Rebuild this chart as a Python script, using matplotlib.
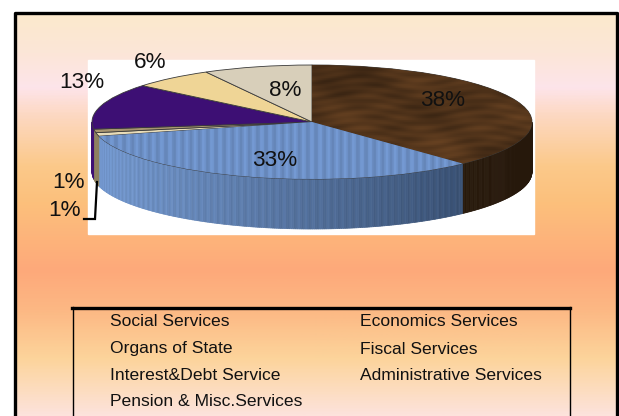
import numpy as np
import matplotlib
matplotlib.use("Agg")
import matplotlib.pyplot as plt
from matplotlib.colors import LinearSegmentedColormap, to_rgb
from matplotlib.patches import Polygon, Rectangle

plt.rcParams['font.family'] = ['Liberation Sans', 'DejaVu Sans']

# Expenditure shares, clockwise from twelve o'clock
shares = [38, 33, 1, 1, 13, 6, 8]
top_colors = ['#4d3119', '#6d90c6', '#e8dcb8', '#a89670', '#3d0f74', '#efd596', '#d8cfba']
wall_left = ['#2e1d0d', '#7499d0', '#8d8060', '#8d8060', '#3d0f74', '#efd596', '#d8cfba']
wall_right = ['#26180b', '#2d4261', '#8d8060', '#8d8060', '#3d0f74', '#efd596', '#d8cfba']
label_xy = [(443, 101), (275, 160), (69, 183), (64, 211), (82, 83), (150, 63), (285, 90)]

legend_col1 = ['Social Services', 'Organs of State', 'Interest&Debt Service', 'Pension & Misc.Services']
legend_col2 = ['Economics Services', 'Fiscal Services', 'Administrative Services']
legend_rows = [321, 349, 376, 402]

W, H = 619, 416
fig = plt.figure(figsize=(W / 100, H / 100), dpi=100, facecolor='white')

# Page layer in pixel coordinates
page = fig.add_axes([0, 0, 1, 1], zorder=1)
page.axis('off')

# Vertical background band inside the frame
bg = LinearSegmentedColormap.from_list('bg', [
    (0.00, '#fbe9cc'), (0.10, '#fce6d8'), (0.185, '#fde4ea'), (0.25, '#fdd9c4'),
    (0.38, '#fbc98a'), (0.47, '#fcc07c'), (0.64, '#fea97a'), (0.74, '#fcb884'),
    (0.86, '#fcd49b'), (1.00, '#fde3dc')])
page.imshow(np.linspace(0, 1, 400)[:, None], cmap=bg, aspect='auto',
            extent=(14, 617, H, 12), zorder=0)
page.set_xlim(0, W)
page.set_ylim(H, 0)
page.plot([14.5, 14.5, 616.5, 616.5], [H, 12.5, 12.5, H], color='black', lw=2.4,
          solid_joinstyle='round', zorder=5)

page.add_patch(Rectangle((88, 60), 446, 174, color='white', zorder=1))

# Legend box, open at the bottom edge
page.plot([72.5, 72.5], [H, 307], color='black', lw=1.0, zorder=3)
page.plot([569.5, 569.5], [H, 307], color='black', lw=1.0, zorder=3)
page.plot([72, 570], [307.5, 307.5], color='black', lw=2.4, zorder=3)
for y, t in zip(legend_rows, legend_col1):
    page.text(110.5, y, t, fontsize=12.6, va='center', ha='left', color='#111111', zorder=4)
for y, t in zip(legend_rows, legend_col2):
    page.text(360, y, t, fontsize=12.6, va='center', ha='left', color='#111111', zorder=4)

# Pie layer: unit circle stretched into the tilted ellipse
ax = fig.add_axes([92 / W, 1 - 179 / H, 440 / W, 114 / H], zorder=2)
ax.patch.set_alpha(0)
wedges, _ = ax.pie(shares, colors=top_colors, startangle=90, counterclock=False,
                   radius=1.0, wedgeprops=dict(edgecolor='#3a3a3a', linewidth=0.6))
ax.set_aspect('auto')

# Side wall, built as thin shaded strips along the front of the rim
depth = 50 / 57
edges = np.cumsum([0] + shares) / sum(shares) * 360
for i in range(len(shares)):
    a0, a1 = max(edges[i], 90), min(edges[i + 1], 270)
    if a1 <= a0:
        continue
    left, right = np.array(to_rgb(wall_left[i])), np.array(to_rgb(wall_right[i]))
    for a in np.arange(a0, a1, 0.5):
        b = min(a + 0.5, a1)
        th = np.radians([a, b])
        xs, ys = np.sin(th), np.cos(th)
        mix = (xs.mean() + 1) / 2
        col = left + (right - left) * mix
        if i == 1:
            col = col * (1 + 0.05 * np.sin(a * 3.3))
        col = np.clip(col, 0, 1)
        ax.add_patch(Polygon([(xs[0], ys[0]), (xs[1], ys[1]),
                              (xs[1], ys[1] - depth), (xs[0], ys[0] - depth)],
                             closed=True, facecolor=col, edgecolor=col,
                             linewidth=0.5, clip_on=False, zorder=0.5))

# Mottled surface shading on the larger slices
gx, gy = np.meshgrid(np.linspace(0, 1, 220), np.linspace(0, 1, 60))
grain_a = (0.6 * np.sin(gx * 17 + 1.0) * np.sin(gy * 9 + 0.5)
           + 0.5 * np.sin(gx * 47 + gy * 13) * np.sin(gy * 31)
           + 0.3 * np.sin(gy * 88 + 3 * np.sin(gx * 23))
           + 0.6 * np.exp(-((gx - 0.78) ** 2 / 0.01 + (gy - 0.6) ** 2 / 0.06)))
grain_b = np.sin(gx * 330)
for idx, grain, amp in [(0, grain_a, 0.24), (1, grain_b, 0.08)]:
    base = np.array(to_rgb(top_colors[idx]))
    tex = np.clip(base[None, None, :] * (1 + amp * grain[:, :, None]), 0, 1)
    im = ax.imshow(tex, extent=(-1, 1, -1, 1), aspect='auto', zorder=2)
    im.set_clip_path(wedges[idx])
ax.set_xlim(-1, 1)
ax.set_ylim(-1, 1)
ax.axis('off')

# Value labels and the leader line for the small slices
over = fig.add_axes([0, 0, 1, 1], zorder=3)
over.set_xlim(0, W)
over.set_ylim(H, 0)
over.axis('off')
over.plot([97, 95, 84], [182, 219, 219], color='black', lw=1.6, solid_joinstyle='miter')
for v, (x, y) in zip(shares, label_xy):
    over.text(x, y, f'{v}%', fontsize=16.2, ha='center', va='center', color='#111111')

fig.savefig('out.png', dpi=100, facecolor='white')
